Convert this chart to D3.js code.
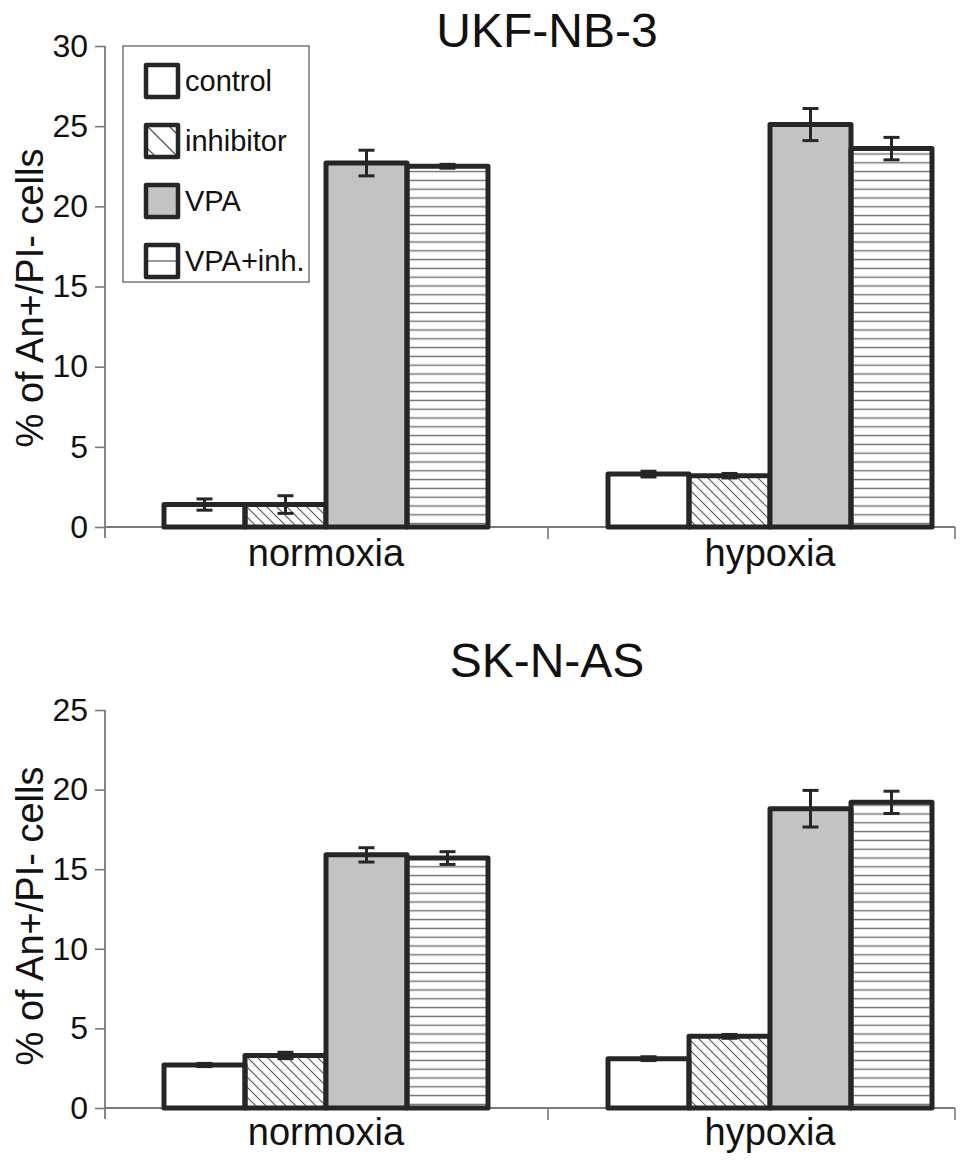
<!DOCTYPE html>
<html>
<head>
<meta charset="utf-8">
<script src="https://cdn.jsdelivr.net/npm/d3@7"></script>
<style>
  html, body { margin: 0; padding: 0; background: #fff; }
  svg { display: block; }
  text { font-family: "Liberation Sans", Arial, sans-serif; fill: #111; }
</style>
</head>
<body>
<svg id="chart" width="969" height="1169"></svg>
<script>
// data
const categories = ["normoxia", "hypoxia"];
const series = ["control", "inhibitor", "VPA", "VPA+inh."];

const ukfMeans  = [[1.4, 1.4, 22.7, 22.5], [3.3, 3.2, 25.1, 23.6]];
const ukfErrors = [[0.35, 0.55, 0.8, 0.12], [0.18, 0.14, 1.0, 0.7]];
const ukfTicks  = [0, 5, 10, 15, 20, 25, 30];

const sknMeans  = [[2.7, 3.3, 15.9, 15.7], [3.1, 4.5, 18.8, 19.2]];
const sknErrors = [[0.1, 0.2, 0.45, 0.4], [0.12, 0.12, 1.15, 0.7]];
const sknTicks  = [0, 5, 10, 15, 20, 25];

const svg = d3.select("#chart");
const defs = svg.append("defs");

const INK = "#262626";
const AXIS = "#7a7a7a";

// hatch patterns, small ones for bars and big ones for the legend swatches
function diagPattern(id, p, w) {
  const pat = defs.append("pattern")
    .attr("id", id)
    .attr("patternUnits", "userSpaceOnUse")
    .attr("width", p).attr("height", p);
  pat.append("path")
    .attr("d", `M0,0L${p},${p}M${-p / 4},${p - p / 4}L${p / 4},${p + p / 4}M${p - p / 4},${-p / 4}L${p + p / 4},${p / 4}`)
    .attr("stroke", "#555")
    .attr("stroke-width", w);
}
function horizPattern(id, p, w) {
  const pat = defs.append("pattern")
    .attr("id", id)
    .attr("patternUnits", "userSpaceOnUse")
    .attr("width", 20).attr("height", p);
  pat.append("line")
    .attr("x1", 0).attr("x2", 20)
    .attr("y1", p / 2).attr("y2", p / 2)
    .attr("stroke", "#6e6e6e")
    .attr("stroke-width", w);
}
diagPattern("diag", 10, 1.1);
horizPattern("horiz", 8.8, 1.4);
diagPattern("diagL", 22, 1.3);
horizPattern("horizL", 32, 1.4);

const fills = {
  "control": "#ffffff",
  "inhibitor": "url(#diag)",
  "VPA": "#c3c3c3",
  "VPA+inh.": "url(#horiz)"
};
const legendFills = {
  "control": "#ffffff",
  "inhibitor": "url(#diagL)",
  "VPA": "#c3c3c3",
  "VPA+inh.": "url(#horizL)"
};

const x0 = d3.scaleBand().domain(categories).range([104, 992]);
const x1 = d3.scaleBand().domain(series).range([-162, 162]);

function drawPanel(cfg) {
  const g = svg.append("g").attr("class", "panel");
  const y = d3.scaleLinear().domain([0, cfg.max]).range([cfg.base, cfg.top]);

  // title
  g.append("text")
    .attr("x", 547).attr("y", cfg.titleY)
    .attr("text-anchor", "middle")
    .style("font-size", "48px")
    .text(cfg.title);

  // y axis
  const yAxis = g.append("g")
    .attr("transform", "translate(105,0)")
    .call(d3.axisLeft(y).tickValues(cfg.ticks).tickSize(10).tickPadding(7));
  yAxis.select(".domain").remove();
  yAxis.selectAll(".tick line").attr("stroke", AXIS).attr("stroke-width", 1.6);
  yAxis.selectAll(".tick text")
    .attr("fill", "#111")
    .style("font-family", "'Liberation Sans', Arial, sans-serif")
    .style("font-size", "32px");
  g.append("line")
    .attr("x1", 105).attr("x2", 105)
    .attr("y1", cfg.top).attr("y2", cfg.base + 11)
    .attr("stroke", AXIS).attr("stroke-width", 1.8);

  // x axis
  g.append("line")
    .attr("x1", 105).attr("x2", 955)
    .attr("y1", cfg.base).attr("y2", cfg.base)
    .attr("stroke", AXIS).attr("stroke-width", 1.8);
  g.selectAll("line.xtick")
    .data([x0("hypoxia"), 955])
    .join("line")
    .attr("class", "xtick")
    .attr("x1", d => d).attr("x2", d => d)
    .attr("y1", cfg.base).attr("y2", cfg.base + 12)
    .attr("stroke", AXIS).attr("stroke-width", 1.6);

  g.selectAll("text.cat")
    .data(categories)
    .join("text")
    .attr("class", "cat")
    .attr("x", d => x0(d) + x0.bandwidth() / 2)
    .attr("y", cfg.catY)
    .attr("text-anchor", "middle")
    .style("font-size", "38px")
    .text(d => d);

  g.append("text")
    .attr("transform", `translate(43,${cfg.labelY}) rotate(-90)`)
    .attr("text-anchor", "middle")
    .style("font-size", "38px")
    .text("% of An+/PI- cells");

  // bars
  const rows = [];
  categories.forEach((c, ci) => {
    series.forEach((s, si) => {
      rows.push({cat: c, ser: s, v: cfg.means[ci][si], e: cfg.errors[ci][si]});
    });
  });
  const cx = d => x0(d.cat) + x0.bandwidth() / 2 + x1(d.ser);

  g.selectAll("rect.bar")
    .data(rows)
    .join("rect")
    .attr("class", "bar")
    .attr("x", cx)
    .attr("y", d => y(d.v))
    .attr("width", x1.bandwidth())
    .attr("height", d => y(0) - y(d.v))
    .attr("fill", d => fills[d.ser])
    .attr("stroke", INK)
    .attr("stroke-width", 5)
    .attr("stroke-linejoin", "round");

  // error bars
  const eb = g.selectAll("g.err")
    .data(rows)
    .join("g")
    .attr("class", "err")
    .attr("transform", d => `translate(${cx(d) + x1.bandwidth() / 2},0)`);
  eb.append("line")
    .attr("y1", d => y(d.v + d.e)).attr("y2", d => y(d.v - d.e))
    .attr("stroke", INK).attr("stroke-width", 3);
  eb.selectAll("line.cap")
    .data(d => [d.v + d.e, d.v - d.e])
    .join("line")
    .attr("class", "cap")
    .attr("x1", -8).attr("x2", 8)
    .attr("y1", d => y(d)).attr("y2", d => y(d))
    .attr("stroke", INK).attr("stroke-width", 3);

  return g;
}

drawPanel({
  title: "UKF-NB-3", titleY: 47, max: 30, ticks: ukfTicks,
  base: 527, top: 46, catY: 566, labelY: 298,
  means: ukfMeans, errors: ukfErrors
});
drawPanel({
  title: "SK-N-AS", titleY: 677, max: 25, ticks: sknTicks,
  base: 1108, top: 710, catY: 1145, labelY: 916,
  means: sknMeans, errors: sknErrors
});

// legend
const legend = svg.append("g").attr("class", "legend");
legend.append("rect")
  .attr("x", 123).attr("y", 46)
  .attr("width", 186).attr("height", 236)
  .attr("fill", "#fff")
  .attr("stroke", AXIS).attr("stroke-width", 1.5);

const item = legend.selectAll("g.item")
  .data(series)
  .join("g")
  .attr("class", "item")
  .attr("transform", (d, i) => `translate(146,${65 + i * 60})`);
item.append("rect")
  .attr("width", 32).attr("height", 32)
  .attr("fill", d => legendFills[d])
  .attr("stroke", INK).attr("stroke-width", 4.5)
  .attr("stroke-linejoin", "round");
item.append("text")
  .attr("x", 39).attr("y", 26)
  .style("font-size", "29px")
  .text(d => d);
</script>
</body>
</html>
